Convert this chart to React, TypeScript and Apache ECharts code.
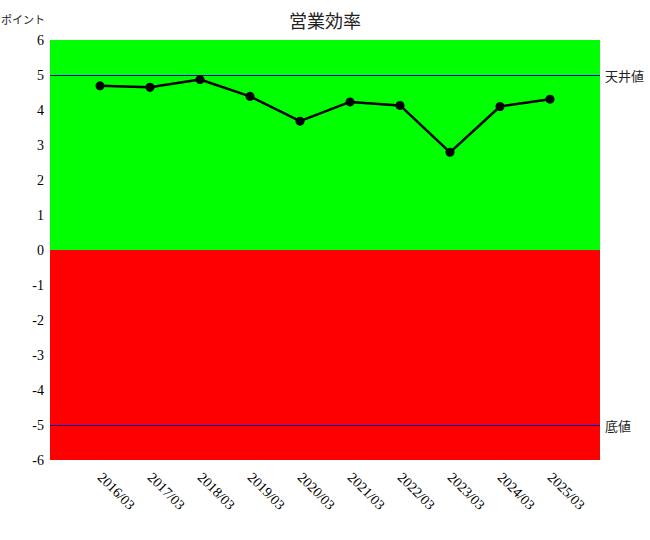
import React, { useEffect, useRef } from "react";
import * as echarts from "echarts";

const categories = ["2016/03", "2017/03", "2018/03", "2019/03", "2020/03", "2021/03", "2022/03", "2023/03", "2024/03", "2025/03"];
const values = [4.69, 4.65, 4.87, 4.39, 3.68, 4.23, 4.13, 2.79, 4.1, 4.31];
const ceilingValue = 5;
const floorValue = -5;
const yMin = -6;
const yMax = 6;

const serif = "serif";
const jp = "Noto Sans CJK JP, sans-serif";

export default function App() {
  const ref = useRef<HTMLDivElement>(null);
  useEffect(() => {
    document.body.style.margin = "0";
    if (!ref.current) return;
    const chart = echarts.init(ref.current, undefined, { renderer: "svg" });
    const xCats = ["", ...categories, ""];
    const data = [null, ...values, null];
    chart.setOption({
      animation: false,
      title: {
        text: "営業効率",
        left: "center",
        top: 6,
        textStyle: { fontFamily: jp, fontSize: 18, fontWeight: "normal", color: "#222" },
      },
      graphic: [
        {
          type: "text",
          left: 1,
          top: 13,
          style: { text: "ポイント", fontFamily: jp, fontSize: 11, fill: "#222" },
        },
      ],
      grid: { left: 50, right: 50, top: 40, bottom: 80 },
      xAxis: {
        type: "category",
        data: xCats,
        boundaryGap: false,
        axisLine: { show: false },
        axisTick: { show: false },
        splitLine: { show: false },
        axisLabel: {
          interval: 0,
          rotate: -45,
          margin: 15,
          fontFamily: serif,
          fontSize: 14,
          color: "#000",
        },
      },
      yAxis: {
        type: "value",
        min: yMin,
        max: yMax,
        interval: 1,
        axisLine: { show: false },
        axisTick: { show: false },
        splitLine: { show: false },
        axisLabel: { fontFamily: serif, fontSize: 14, color: "#000", margin: 6 },
      },
      series: [
        {
          type: "line",
          data,
          z: 5,
          symbol: "circle",
          symbolSize: 9,
          connectNulls: false,
          itemStyle: { color: "#000" },
          lineStyle: { color: "#000", width: 2.5 },
          markArea: {
            silent: true,
            z: 0,
            data: [
              [{ yAxis: 0, itemStyle: { color: "#00ff00", opacity: 1 } }, { yAxis: yMax }],
              [{ yAxis: yMin, itemStyle: { color: "#ff0000", opacity: 1 } }, { yAxis: 0 }],
            ],
          },
          markLine: {
            silent: true,
            symbol: ["none", "none"],
            lineStyle: { color: "#0000cc", width: 1, type: "solid" },
            label: {
              position: "end",
              fontFamily: jp,
              fontSize: 13,
              color: "#222",
              distance: 5,
            },
            data: [
              { yAxis: ceilingValue, label: { formatter: "天井値" } },
              { yAxis: floorValue, label: { formatter: "底値" } },
            ],
          },
        },
      ],
    });
    return () => chart.dispose();
  }, []);
  return <div ref={ref} style={{ width: 650, height: 540 }} />;
}
